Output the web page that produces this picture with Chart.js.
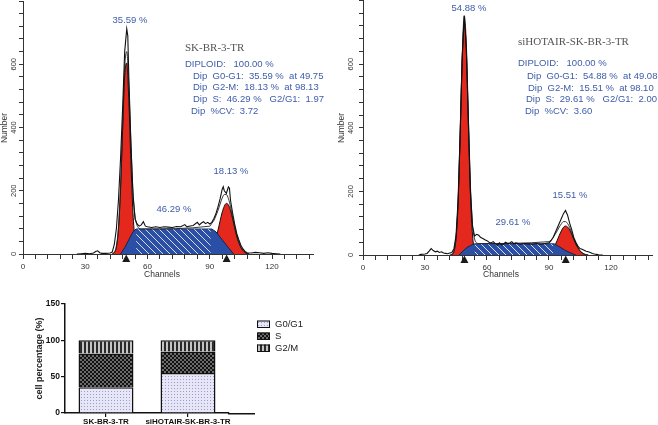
<!DOCTYPE html>
<html>
<head>
<meta charset="utf-8">
<script src="https://cdn.jsdelivr.net/npm/chart.js@4.4.0/dist/chart.umd.min.js"></script>
<style>
  body { margin: 0; background: #fff; width: 658px; height: 425px; position: relative; overflow: hidden; }
  .box { position: absolute; }
</style>
</head>
<body>
<div class="box" style="left:0;top:0;width:328px;height:282px"><canvas id="histA"></canvas></div>
<div class="box" style="left:328px;top:0;width:330px;height:283px"><canvas id="histB"></canvas></div>
<div class="box" style="left:0;top:295px;width:340px;height:130px"><canvas id="bars"></canvas></div>
<script>
// ---- cell cycle summary (also used for the histogram labels)
const samples = ['SK-BR-3-TR', 'siHOTAIR-SK-BR-3-TR'];
const g0g1 = [35.59, 54.88];
const sPhase = [46.29, 29.61];
const g2m = [18.13, 15.51];
const peakG1 = [49.75, 49.08];
const peakG2 = [98.13, 98.10];
const g2g1 = [1.97, 2.00];
const cvVals = [3.72, 3.60];
const yLabelVals = [0, 200, 400, 600];

// ---- SK-BR-3-TR histogram (channel / count)
const rawChA = [26,28,30,32,34,35,36,37,38,40,42,43,44,45,46,47,48,49,50,50.5,51,52,53,54,55,56,57,58,59,60,62,64,66,68,70,72,74,76,78,79,80,82,84,85,86,87,88,89,90,91,92,93,94,95,96,96.5,97,98,99,99.5,100,101,102,103,104,105,106,107,108,110,112,114,116,118,120,122,124];
const rawA = [0,1,2,1,3,8,10,4,2,2,3,6,30,80,170,300,460,640,712,690,560,350,190,110,95,88,92,102,88,86,84,86,84,86,85,84,87,86,93,86,88,90,100,92,98,102,96,100,95,100,112,128,150,175,205,213,200,192,212,208,170,130,95,65,45,28,16,8,4,3,5,4,2,4,2,1,0];
const fitChA = [43,44,45,46,47,48,49,50,51,52,53,54,55,56,57,90,91,92,93,94,95,96,97,98,99,100,101,102,103,104,105,106,107,108,109];
const fitA = [0,5,25,85,215,405,590,640,530,350,195,120,90,81,79,88,97,106,121,138,158,177,188,188,175,150,116,84,57,36,21,11,5,2,0];
const g1ChA = [43,44,45,46,47,48,49,50,51,52,53,54,55,56];
const g1A = [0,5,22,78,202,390,563,604,486,291,130,44,11,0];
const g2ChA = [87,88,89,90,91,92,93,94,95,96,97,98,99,100,101,102,103,104,105,106,107,108,109];
const g2A = [0,2,4,9,18,31,51,76,105,132,151,160,155,138,112,84,57,36,21,11,5,2,0];
const sChA = [47,49,51,53,54.5,91,93,96,99,101.5];
const sA = [0,20,45,70,79,79,70,45,20,0];
const hatchChA = [54.5, 90.5];
const hatchA = [78, 78];

// ---- siHOTAIR-SK-BR-3-TR histogram
const rawChB = [27,28,30,31,32,33,34,35,36,37,38,39,40,41,42,43,44,45,46,47,48,49,50,51,52,53,54,55,56,57,58,59,60,61,62,63,64,65,66,67,68,69,70,71,72,73,74,75,76,78,80,82,84,86,88,90,91,92,93,94,95,96,97,98,99,100,101,102,103,104,105,106,107,108,109,110,111,112,113,114,116];
const rawB = [0,2,3,5,12,20,14,10,12,8,10,6,5,4,6,8,20,60,170,380,620,752,650,420,200,90,60,65,62,55,52,48,45,40,38,42,36,30,38,32,34,40,36,38,42,35,38,36,34,36,35,34,36,34,36,38,45,55,70,85,100,115,130,140,125,100,80,55,40,28,20,18,15,12,10,8,5,3,2,1,0];
const fitChB = [43,44,45,46,47,48,49,50,51,52,53,54,55,56,90,91,92,93,94,95,96,97,98,99,100,101,102,103,104,105,106,107,108,109];
const fitB = [0,12,52,165,380,625,752,665,436,218,95,50,38,36,42,47,55,65,76,88,98,105,105,99,87,70,52,35,23,13,7,3,1,0];
const g1ChB = [42,43,44,45,46,47,48,49,50,51,52,53,54,55,56];
const g1B = [0,2,12,52,162,369,610,734,642,408,188,63,15,3,0];
const g2ChB = [87,88,89,90,91,92,93,94,95,96,97,98,99,100,101,102,103,104,105,106,107,108,109];
const g2B = [0,1,3,7,12,20,32,46,62,76,87,91,88,79,65,49,35,23,13,7,3,1,0];
const sChB = [46.5,48,50,52,54,92.5,95,98,101,103];
const sB = [0,10,22,30,35,35,26,14,5,0];
const hatchChB = [54, 92];
const hatchB = [34, 34];

Chart.defaults.font.family = '"Liberation Sans", Arial, sans-serif';
Chart.defaults.color = '#333';

function pts(xs, ys) {
  return xs.map((x, i) => ({ x: x, y: ys[i] }));
}

function hatchPattern() {
  const p = 7;
  const c = document.createElement('canvas');
  c.width = p; c.height = p;
  const g = c.getContext('2d');
  g.fillStyle = '#2c4fa6';
  g.fillRect(0, 0, p, p);
  g.strokeStyle = 'rgba(255,255,255,0.8)';
  g.lineWidth = 1;
  g.beginPath();
  [-p, 0, p].forEach(k => { g.moveTo(k, 0); g.lineTo(k + p, p); });
  g.stroke();
  return g.createPattern(c, 'repeat');
}

function tilePattern(size, base, draw) {
  const c = document.createElement('canvas');
  c.width = size; c.height = size;
  const g = c.getContext('2d');
  g.fillStyle = base;
  g.fillRect(0, 0, size, size);
  draw(g);
  return g.createPattern(c, 'repeat');
}

const statLines = i => [
  'DIPLOID:   100.00 %',
  `Dip  G0-G1:  ${g0g1[i].toFixed(2)} %  at ${peakG1[i].toFixed(2)}`,
  `Dip  G2-M:  ${g2m[i].toFixed(2)} %  at ${peakG2[i].toFixed(2)}`,
  `Dip  S:  ${sPhase[i].toFixed(2)} %   G2/G1:  ${g2g1[i].toFixed(2)}`,
  `Dip  %CV:  ${cvVals[i].toFixed(2)}`
];

const histDecor = {
  id: 'histDecor',
  afterDraw(chart, args, o) {
    const { ctx, chartArea: a, scales: { x, y } } = chart;
    ctx.save();
    // peak markers under the axis
    ctx.fillStyle = '#1a1a1a';
    o.peaks.forEach(ch => {
      const px = x.getPixelForValue(ch);
      ctx.beginPath();
      ctx.moveTo(px, a.bottom + 0.5);
      ctx.lineTo(px - 4, a.bottom + 8);
      ctx.lineTo(px + 4, a.bottom + 8);
      ctx.closePath();
      ctx.fill();
    });
    // rotated y tick labels
    ctx.fillStyle = '#333';
    ctx.font = '7.5px "Liberation Sans"';
    ctx.textAlign = 'center';
    ctx.textBaseline = 'middle';
    yLabelVals.forEach(v => {
      ctx.save();
      ctx.translate(a.left - o.yGap, y.getPixelForValue(v));
      ctx.rotate(-Math.PI / 2);
      ctx.fillText(String(v), 0, 0);
      ctx.restore();
    });
    // axis titles
    ctx.font = '8.5px "Liberation Sans"';
    ctx.fillText('Channels', o.chanPos[0], o.chanPos[1]);
    ctx.save();
    ctx.translate(o.numPos[0], o.numPos[1]);
    ctx.rotate(-Math.PI / 2);
    ctx.fillText('Number', 0, 0);
    ctx.restore();
    // phase percentages
    ctx.fillStyle = '#3d5ca9';
    ctx.font = '9.5px "Liberation Sans"';
    o.pcts.forEach((p, i) => ctx.fillText(p + ' %', o.pctPos[i][0], o.pctPos[i][1]));
    // sample name and fit statistics
    ctx.textAlign = 'left';
    ctx.fillStyle = '#555';
    ctx.font = '11px "Liberation Serif"';
    ctx.fillText(samples[o.idx], o.namePos[0], o.namePos[1]);
    ctx.fillStyle = '#3d5ca9';
    ctx.font = '9.5px "Liberation Sans"';
    statLines(o.idx).forEach((l, i) => ctx.fillText(l, o.lineX[i], o.lineY[i]));
    ctx.restore();
  }
};

function histChart(id, d, deco, pad, yW) {
  const hatch = hatchPattern();
  const line = (data, extra) => Object.assign({ data: data, pointRadius: 0, fill: false, tension: 0 }, extra);
  return new Chart(document.getElementById(id), {
    type: 'line',
    data: {
      datasets: [
        line(pts(d.rawCh, d.raw), { borderColor: '#111', borderWidth: 1.1, order: 0 }),
        line(pts(d.fitCh, d.fit), { borderColor: '#222', borderWidth: 0.9, cubicInterpolationMode: 'monotone', order: 1 }),
        line(pts(d.hatchCh, d.hatch), { borderWidth: 0, backgroundColor: hatch, fill: 'origin', order: 2 }),
        line(pts(d.sCh, d.s), { borderColor: '#14244f', borderWidth: 1, backgroundColor: '#2c4fa6', fill: 'origin', order: 3 }),
        line(pts(d.g2Ch, d.g2), { borderColor: '#111', borderWidth: 1, backgroundColor: '#e4281e', fill: 'origin', cubicInterpolationMode: 'monotone', order: 4 }),
        line(pts(d.g1Ch, d.g1), { borderColor: '#111', borderWidth: 1, backgroundColor: '#e4281e', fill: 'origin', cubicInterpolationMode: 'monotone', order: 5 })
      ]
    },
    options: {
      responsive: true,
      maintainAspectRatio: false,
      animation: false,
      devicePixelRatio: 1,
      events: [],
      layout: { padding: pad },
      plugins: { legend: { display: false }, tooltip: { enabled: false }, histDecor: deco },
      scales: {
        x: {
          type: 'linear', min: 0, max: 140,
          afterFit: s => { s.height = 28; },
          border: { color: '#333', width: 1 },
          grid: { drawOnChartArea: false, drawTicks: true, tickLength: 5, color: '#333' },
          ticks: {
            stepSize: 6, includeBounds: false, autoSkip: false, maxRotation: 0, padding: 3,
            font: { size: 8 }, color: '#333',
            callback: v => (Math.round(v) % 30 === 0 ? String(Math.round(v)) : '')
          }
        },
        y: {
          min: 0, max: 800,
          afterFit: s => { s.width = yW; },
          border: { color: '#333', width: 1 },
          grid: { drawOnChartArea: false, drawTicks: true, tickLength: 4, color: '#333' },
          ticks: { stepSize: 40, display: false, autoSkip: false }
        }
      }
    },
    plugins: [histDecor]
  });
}

histChart('histA',
  { rawCh: rawChA, raw: rawA, fitCh: fitChA, fit: fitA, g1Ch: g1ChA, g1: g1A, g2Ch: g2ChA, g2: g2A, sCh: sChA, s: sA, hatchCh: hatchChA, hatch: hatchA },
  {
    idx: 0, peaks: [peakG1[0], peakG2[0]], yGap: 9.5,
    chanPos: [162, 275], numPos: [4.5, 128],
    pcts: [g0g1[0].toFixed(2), sPhase[0].toFixed(2), g2m[0].toFixed(2)],
    pctPos: [[130, 20], [174, 209], [231, 171]],
    namePos: [185, 48],
    lineX: [185, 193, 193, 193, 191], lineY: [64, 76, 87, 99, 111]
  },
  { left: 0, right: 14.5, top: 1, bottom: 0 }, 23);

histChart('histB',
  { rawCh: rawChB, raw: rawB, fitCh: fitChB, fit: fitB, g1Ch: g1ChB, g1: g1B, g2Ch: g2ChB, g2: g2B, sCh: sChB, s: sB, hatchCh: hatchChB, hatch: hatchB },
  {
    idx: 1, peaks: [peakG1[1], peakG2[1]], yGap: 12,
    chanPos: [173, 275], numPos: [14, 128],
    pcts: [g0g1[1].toFixed(2), sPhase[1].toFixed(2), g2m[1].toFixed(2)],
    pctPos: [[141, 8], [185, 222], [242, 195]],
    namePos: [190, 42],
    lineX: [190, 199, 200, 198, 197], lineY: [63, 76, 88, 99, 111]
  },
  { left: 11, right: 5.7, top: 0.5, bottom: 0 }, 24);

// ---- stacked bar chart
const dotsPat = tilePattern(3, '#e6e6f7', g => { g.fillStyle = '#9b9bcc'; g.fillRect(0, 0, 1, 1); });
const checkPat = tilePattern(4, '#111', g => { g.fillStyle = '#6a6a6a'; g.fillRect(0, 0, 2, 2); g.fillRect(2, 2, 2, 2); });
const stripePat = tilePattern(4, '#c4c4c4', g => { g.fillStyle = '#2a2a2a'; g.fillRect(0, 0, 2, 4); });

const barDecor = {
  id: 'barDecor',
  afterDraw(chart) {
    const { ctx, chartArea: a } = chart;
    ctx.save();
    // axis continues past the last bar
    ctx.strokeStyle = '#111';
    ctx.lineWidth = 1.5;
    ctx.beginPath();
    ctx.moveTo(a.right - 1, a.bottom + 0.75);
    ctx.lineTo(a.right + 26, a.bottom + 0.75);
    ctx.stroke();
    // y title
    ctx.fillStyle = '#222';
    ctx.font = 'bold 9px "Liberation Sans"';
    ctx.textAlign = 'center';
    ctx.textBaseline = 'middle';
    ctx.save();
    ctx.translate(40, (a.top + a.bottom) / 2);
    ctx.rotate(-Math.PI / 2);
    ctx.fillText('cell percentage (%)', 0, 0);
    ctx.restore();
    // legend
    ctx.textAlign = 'left';
    ctx.font = '9.5px "Liberation Sans"';
    chart.data.datasets.forEach((ds, i) => {
      const yy = 29 + i * 12;
      ctx.fillStyle = ds.backgroundColor;
      ctx.fillRect(257, yy - 3.5, 13, 7);
      ctx.strokeStyle = '#111';
      ctx.lineWidth = 1;
      ctx.strokeRect(257.5, yy - 3, 12, 6.5);
      ctx.fillStyle = '#222';
      ctx.fillText(ds.label, 275, yy);
    });
    ctx.restore();
  }
};

new Chart(document.getElementById('bars'), {
  type: 'bar',
  data: {
    labels: samples,
    datasets: [
      { label: 'G0/G1', data: g0g1, backgroundColor: dotsPat },
      { label: 'S', data: sPhase, backgroundColor: checkPat },
      { label: 'G2/M', data: g2m, backgroundColor: stripePat }
    ]
  },
  options: {
    responsive: true,
    maintainAspectRatio: false,
    animation: false,
    devicePixelRatio: 1,
    events: [],
    layout: { padding: { left: 0, right: 111, top: 9, bottom: 0 } },
    datasets: { bar: { borderColor: '#111', borderWidth: 1.5, barPercentage: 1, categoryPercentage: 0.67 } },
    plugins: { legend: { display: false }, tooltip: { enabled: false } },
    scales: {
      x: {
        stacked: true,
        afterFit: s => { s.height = 12; },
        border: { color: '#111', width: 1.5 },
        grid: { drawOnChartArea: false, offset: false, tickLength: 4, color: '#111', lineWidth: 1.2 },
        ticks: { autoSkip: false, maxRotation: 0, padding: 0, color: '#111', font: { size: 8, weight: 'bold' } }
      },
      y: {
        stacked: true, min: 0, max: 150,
        afterFit: s => { s.width = 65; },
        border: { color: '#111', width: 1.5 },
        grid: { drawOnChartArea: false, tickLength: 4, color: '#111', lineWidth: 1.2 },
        ticks: { stepSize: 50, padding: 1, color: '#111', font: { size: 8.5, weight: 'bold' } }
      }
    }
  },
  plugins: [barDecor]
});
</script>
</body>
</html>
